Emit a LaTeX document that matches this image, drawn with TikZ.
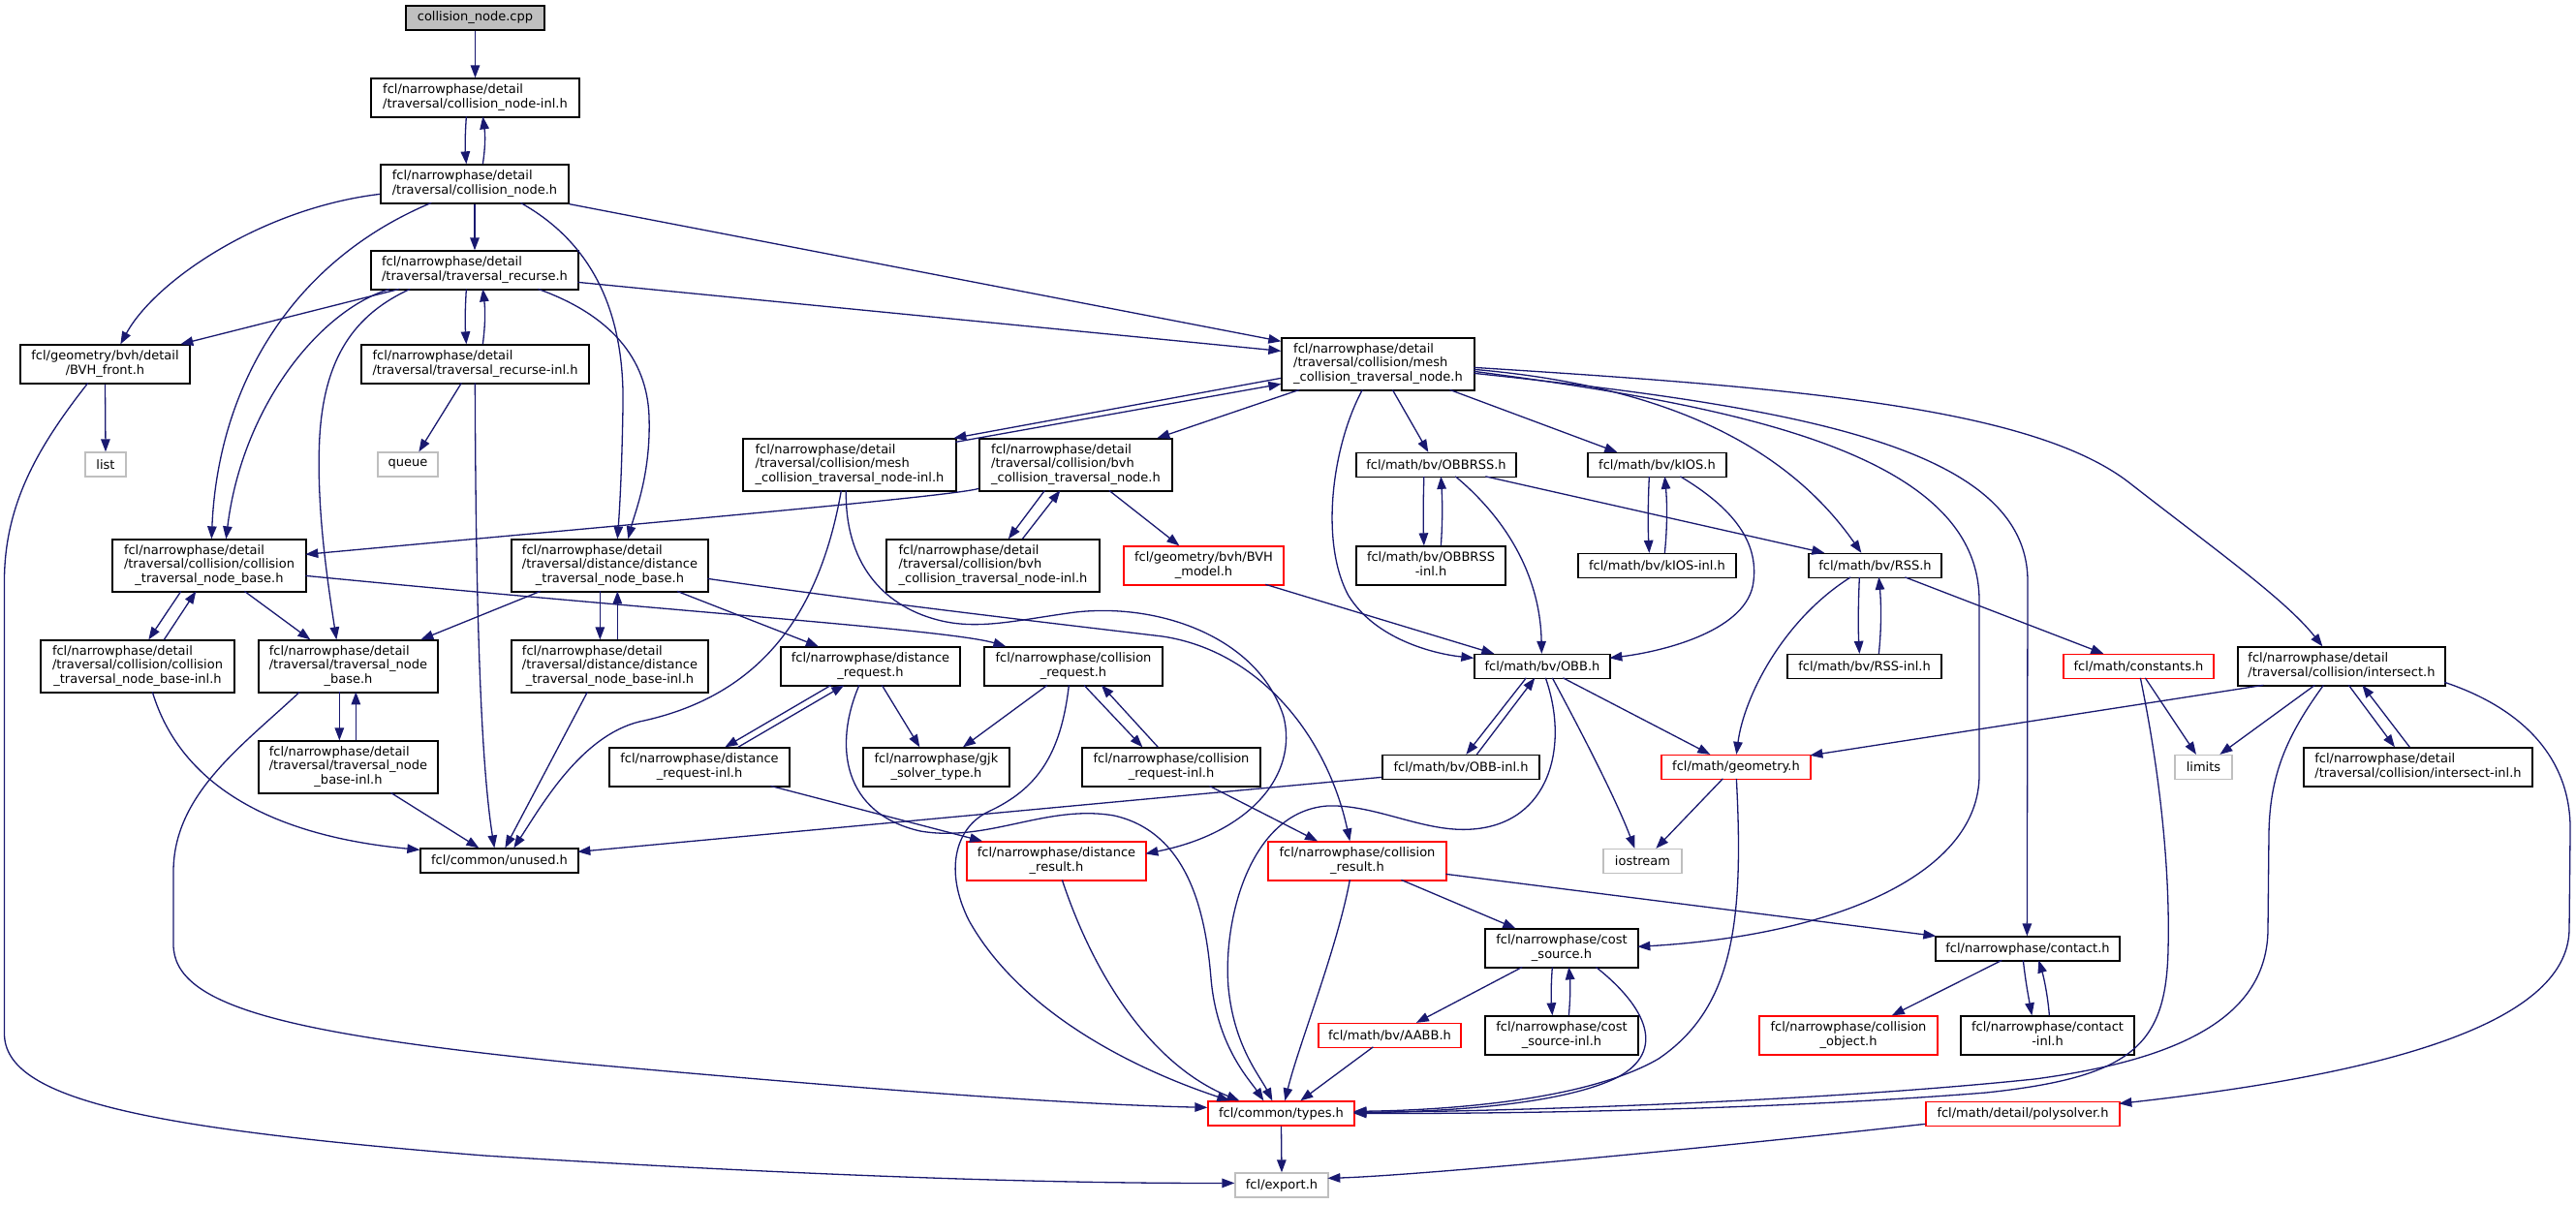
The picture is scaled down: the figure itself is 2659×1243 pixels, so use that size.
\documentclass[tikz,border=0pt]{standalone}
\usepackage{fontspec}
\setmainfont{DejaVu Sans}
\usetikzlibrary{arrows.meta}
\definecolor{eb}{HTML}{191970}
\definecolor{gb}{HTML}{BFBFBF}
\definecolor{rb}{HTML}{FF0000}
\newcommand{\LL}[2]{\begin{tabular}{@{}l@{}}#1\\\multicolumn{1}{@{}c@{}}{#2}\end{tabular}}
\begin{document}
\begin{tikzpicture}[x=1pt,y=-1pt,
  nd/.style={draw=black, fill=white, line width=1.3pt, rectangle, inner sep=0pt, font=\fontsize{13}{14.5}\selectfont},
  rd/.style={nd, draw=rb},
  gd/.style={nd, draw=gb},
  e/.style={draw=eb, line width=1.3pt, -{Triangle[length=13pt,width=9.5pt]}},
  n1/.style={minimum height=25pt},
  n2/.style={minimum height=40pt},
  n3/.style={minimum height=54pt}]
\fill[white] (0,0) rectangle (2659,1243);
\useasboundingbox (0,0) rectangle (2659,1243);

\node[nd,fill=gb,n1,minimum width=143pt] (cpp) at (490.5,18.5) {collision\_node.cpp};
\node[nd,n2,minimum width=215pt] (inl) at (490.5,101) {\LL{fcl/narrowphase/detail}{/traversal/collision\_node-inl.h}};
\node[nd,n2,minimum width=194pt] (cnode) at (490,190) {\LL{fcl/narrowphase/detail}{/traversal/collision\_node.h}};
\node[nd,n2,minimum width=214pt] (recurse) at (490,279) {\LL{fcl/narrowphase/detail}{/traversal/traversal\_recurse.h}};
\node[nd,n2,minimum width=175pt] (bvhfront) at (108.5,376) {\LL{fcl/geometry/bvh/detail}{/BVH\_front.h}};
\node[nd,n2,minimum width=235pt] (recinl) at (490.5,376) {\LL{fcl/narrowphase/detail}{/traversal/traversal\_recurse-inl.h}};
\node[gd,n1,minimum width=42pt] (list) at (109,479.5) {list};
\node[gd,n1,minimum width=62pt] (queue) at (421,479.5) {queue};
\node[nd,n3,minimum width=200pt] (ctnb) at (216,584) {\LL{fcl/narrowphase/detail\\/traversal/collision/collision}{\_traversal\_node\_base.h}};
\node[nd,n3,minimum width=203pt] (dtnb) at (629.5,584) {\LL{fcl/narrowphase/detail\\/traversal/distance/distance}{\_traversal\_node\_base.h}};
\node[nd,n3,minimum width=200pt] (ctnbinl) at (142,688) {\LL{fcl/narrowphase/detail\\/traversal/collision/collision}{\_traversal\_node\_base-inl.h}};
\node[nd,n3,minimum width=185pt] (tnb) at (359.5,688) {\LL{fcl/narrowphase/detail\\/traversal/traversal\_node}{\_base.h}};
\node[nd,n3,minimum width=203pt] (dtnbinl) at (629.5,688) {\LL{fcl/narrowphase/detail\\/traversal/distance/distance}{\_traversal\_node\_base-inl.h}};
\node[nd,n3,minimum width=185pt] (tnbinl) at (359.5,792) {\LL{fcl/narrowphase/detail\\/traversal/traversal\_node}{\_base-inl.h}};
\node[nd,n2,minimum width=186pt] (dreqinl) at (722,792) {\LL{fcl/narrowphase/distance}{\_request-inl.h}};
\node[nd,n1,minimum width=163pt] (unused) at (515.5,888.5) {fcl/common/unused.h};
\node[nd,n3,minimum width=199pt] (mesh) at (1422.5,376) {\LL{fcl/narrowphase/detail\\/traversal/collision/mesh}{\_collision\_traversal\_node.h}};
\node[nd,n3,minimum width=220pt] (meshinl) at (877,480) {\LL{fcl/narrowphase/detail\\/traversal/collision/mesh}{\_collision\_traversal\_node-inl.h}};
\node[nd,n3,minimum width=199pt] (bvhctn) at (1110.5,480) {\LL{fcl/narrowphase/detail\\/traversal/collision/bvh}{\_collision\_traversal\_node.h}};
\node[nd,n3,minimum width=220pt] (bvhctninl) at (1025,584) {\LL{fcl/narrowphase/detail\\/traversal/collision/bvh}{\_collision\_traversal\_node-inl.h}};
\node[rd,n2,minimum width=165pt] (bvhmodel) at (1242.5,584) {\LL{fcl/geometry/bvh/BVH}{\_model.h}};
\node[nd,n2,minimum width=185pt] (dreq) at (898.5,688) {\LL{fcl/narrowphase/distance}{\_request.h}};
\node[nd,n2,minimum width=184pt] (creq) at (1108,688) {\LL{fcl/narrowphase/collision}{\_request.h}};
\node[nd,n2,minimum width=151pt] (gjk) at (966.5,792) {\LL{fcl/narrowphase/gjk}{\_solver\_type.h}};
\node[nd,n2,minimum width=184pt] (creqinl) at (1209,792) {\LL{fcl/narrowphase/collision}{\_request-inl.h}};
\node[rd,n2,minimum width=185pt] (dres) at (1090.5,889) {\LL{fcl/narrowphase/distance}{\_result.h}};
\node[rd,n2,minimum width=184pt] (cres) at (1401,889) {\LL{fcl/narrowphase/collision}{\_result.h}};
\node[rd,n1,minimum width=151pt] (types) at (1322.5,1149.5) {fcl/common/types.h};
\node[gd,n1,minimum width=96pt] (export) at (1323,1223.5) {fcl/export.h};
\node[nd,n1,minimum width=165pt] (OBBRSS) at (1482.5,480) {fcl/math/bv/OBBRSS.h};
\node[nd,n1,minimum width=143pt] (kIOS) at (1710.5,480) {fcl/math/bv/kIOS.h};
\node[nd,n2,minimum width=154pt] (OBBRSSinl) at (1477,584) {\LL{fcl/math/bv/OBBRSS}{-inl.h}};
\node[nd,n1,minimum width=163pt] (kIOSinl) at (1710.5,584) {fcl/math/bv/kIOS-inl.h};
\node[nd,n1,minimum width=137pt] (RSS) at (1935.5,584) {fcl/math/bv/RSS.h};
\node[nd,n1,minimum width=140pt] (OBB) at (1592,688) {fcl/math/bv/OBB.h};
\node[nd,n1,minimum width=159pt] (RSSinl) at (1924.5,688) {fcl/math/bv/RSS-inl.h};
\node[rd,n1,minimum width=155pt] (constants) at (2207.5,688) {fcl/math/constants.h};
\node[nd,n2,minimum width=214pt] (intersect) at (2417,688) {\LL{fcl/narrowphase/detail}{/traversal/collision/intersect.h}};
\node[nd,n1,minimum width=162pt] (OBBinl) at (1508,792) {fcl/math/bv/OBB-inl.h};
\node[rd,n1,minimum width=154pt] (geometry) at (1792,792) {fcl/math/geometry.h};
\node[gd,n1,minimum width=59pt] (limits) at (2274.5,792) {limits};
\node[nd,n2,minimum width=236pt] (intinl) at (2496,792) {\LL{fcl/narrowphase/detail}{/traversal/collision/intersect-inl.h}};
\node[gd,n1,minimum width=81pt] (iostream) at (1695.5,889) {iostream};
\node[nd,n2,minimum width=158pt] (costsrc) at (1612,979) {\LL{fcl/narrowphase/cost}{\_source.h}};
\node[nd,n1,minimum width=190pt] (contact) at (2093,979.5) {fcl/narrowphase/contact.h};
\node[nd,n2,minimum width=158pt] (costinl) at (1612,1069) {\LL{fcl/narrowphase/cost}{\_source-inl.h}};
\node[rd,n2,minimum width=184pt] (collobj) at (1908,1069) {\LL{fcl/narrowphase/collision}{\_object.h}};
\node[nd,n2,minimum width=179pt] (contactinl) at (2113.5,1069) {\LL{fcl/narrowphase/contact}{-inl.h}};
\node[rd,n1,minimum width=147pt] (AABB) at (1434.5,1069) {fcl/math/bv/AABB.h};
\node[rd,n1,minimum width=200pt] (polysolver) at (2088,1150) {fcl/math/detail/polysolver.h};

% top part
\draw[e] (cpp.south) -- (inl.north);
\draw[e] ([shift={(99,40)}]inl.north west) .. controls (480,140) and (480,152) .. ([shift={(89,0)}]cnode.north west);
\draw[e] ([shift={(106,0)}]cnode.north west) .. controls (501,152) and (501,140) .. ([shift={(116,40)}]inl.north west);
\draw[e] (cnode.south) -- (recurse.north);
\draw[e] ([shift={(0,31)}]cnode.north west) .. controls (270,215) and (160,290) .. ([shift={(104,0)}]bvhfront.north west);
\draw[e] ([shift={(53,40)}]cnode.north west) .. controls (300,270) and (225,400) .. ([shift={(103,0)}]ctnb.north west);
\draw[e] ([shift={(20,40)}]recurse.north west) .. controls (330,320) and (250,420) .. ([shift={(118,0)}]ctnb.north west);
\draw[e] ([shift={(41,40)}]recurse.north west) .. controls (365,325) and (335,370) .. (330,450) .. controls (326,520) and (338,600) .. ([shift={(81,0)}]tnb.north west);
\draw[e] ([shift={(30,40)}]recurse.north west) -- ([shift={(166,0)}]bvhfront.north west);
\draw[e] ([shift={(99,40)}]recurse.north west) .. controls (480,320) and (480,335) .. ([shift={(109,0)}]recinl.north west);
\draw[e] ([shift={(126,0)}]recinl.north west) .. controls (501,335) and (501,320) .. ([shift={(116,40)}]recurse.north west);
\draw[e] ([shift={(104,40)}]recinl.north west) -- ([shift={(43,0)}]queue.north west);
\draw[e] ([shift={(118,40)}]recinl.north west) .. controls (491,600) and (495,780) .. ([shift={(77,0)}]unused.north west);
\draw[e] (bvhfront.south) -- (list.north);
\draw[e] ([shift={(70.5,40)}]bvhfront.north west) .. controls (40,460) and (4.5,520) .. (4.5,600) -- (4.5,1067) .. controls (4.5,1135) and (150,1165) .. (500,1193) .. controls (850,1215) and (1100,1222) .. ([shift={(0,11)}]export.north west);
\draw[e] ([shift={(145,40)}]cnode.north west) .. controls (610,250) and (645,320) .. (643,420) .. controls (642,480) and (640,520) .. ([shift={(110,0)}]dtnb.north west);
\draw[e] ([shift={(173,40)}]recurse.north west) .. controls (630,325) and (668,370) .. (670,430) .. controls (672,490) and (655,530) .. ([shift={(121,0)}]dtnb.north west);
\draw[e] (cnode.south east) -- ([shift={(0,4)}]mesh.north west);
\draw[e] ([shift={(214,33)}]recurse.north west) -- ([shift={(0,14)}]mesh.north west);

% collision / traversal base
\draw[e] ([shift={(71.5,54)}]ctnb.north west) -- ([shift={(112,0)}]ctnbinl.north west);
\draw[e] ([shift={(128,0)}]ctnbinl.north west) -- ([shift={(87,54)}]ctnb.north west);
\draw[e] ([shift={(137,54)}]ctnb.north west) -- ([shift={(54,0)}]tnb.north west);
\draw[e] ([shift={(200,38)}]ctnb.north west) .. controls (700,632) and (980,650) .. ([shift={(23,0)}]creq.north west);
\draw[e] ([shift={(0,52)}]bvhctn.north west) .. controls (985,512) and (700,537) .. ([shift={(200,16)}]ctnb.north west);
\draw[e] ([shift={(116,54)}]ctnbinl.north west) .. controls (180,790) and (250,860) .. ([shift={(0,2)}]unused.north west);
\draw[e] ([shift={(84,54)}]tnb.north west) -- ([shift={(84,0)}]tnbinl.north west);
\draw[e] ([shift={(101,0)}]tnbinl.north west) -- ([shift={(101,54)}]tnb.north west);
\draw[e] ([shift={(43,54)}]tnb.north west) .. controls (250,770) and (179,820) .. (179,900) -- (179,975) .. controls (179,1040) and (300,1068) .. (600,1098) .. controls (900,1125) and (1100,1140) .. ([shift={(0,7)}]types.north west);
\draw[e] ([shift={(137,54)}]tnbinl.north west) -- ([shift={(61,0)}]unused.north west);
\draw[e] ([shift={(30.5,54)}]dtnb.north west) -- ([shift={(168,0)}]tnb.north west);
\draw[e] ([shift={(92,54)}]dtnb.north west) -- ([shift={(92,0)}]dtnbinl.north west);
\draw[e] ([shift={(110,0)}]dtnbinl.north west) -- ([shift={(110,54)}]dtnb.north west);
\draw[e] ([shift={(171.5,54)}]dtnb.north west) -- ([shift={(39.5,0)}]dreq.north west);
\draw[e] ([shift={(203,41)}]dtnb.north west) .. controls (900,622) and (1100,645) .. (1200,657) .. controls (1300,672) and (1370,760) .. ([shift={(85,0)}]cres.north west);
\draw[e] ([shift={(79,54)}]dtnbinl.north west) -- ([shift={(88,0)}]unused.north west);

% mesh inl
\draw[e] ([shift={(102,54)}]meshinl.north west) .. controls (845,640) and (780,720) .. (660,745) .. controls (600,760) and (560,830) .. ([shift={(97,0)}]unused.north west);
\draw[e] ([shift={(107,54)}]meshinl.north west) .. controls (872,580) and (910,625) .. (968,640) .. controls (1010,651) and (1050,640) .. (1110,632) .. controls (1200,622) and (1300,660) .. (1325,740) .. controls (1340,800) and (1290,860) .. ([shift={(185,13)}]dres.north west);
\draw[e] ([shift={(0,42)}]mesh.north west) -- ([shift={(218,0)}]meshinl.north west);
\draw[e] ([shift={(220,4)}]meshinl.north west) -- ([shift={(0,48)}]mesh.north west);
\draw[e] ([shift={(19,54)}]mesh.north west) -- ([shift={(184,0)}]bvhctn.north west);

% bvh
\draw[e] ([shift={(68,54)}]bvhctn.north west) -- ([shift={(126.5,0)}]bvhctninl.north west);
\draw[e] ([shift={(141,0)}]bvhctninl.north west) -- ([shift={(84,54)}]bvhctn.north west);
\draw[e] ([shift={(134.5,54)}]bvhctn.north west) -- ([shift={(58,0)}]bvhmodel.north west);
\draw[e] ([shift={(147,40)}]bvhmodel.north west) -- ([shift={(21,0)}]OBB.north west);

% mesh fan
\draw[e] ([shift={(115,54)}]mesh.north west) -- ([shift={(75,0)}]OBBRSS.north west);
\draw[e] ([shift={(174,54)}]mesh.north west) -- ([shift={(31,0)}]kIOS.north west);
\draw[e] ([shift={(84,54)}]mesh.north west) .. controls (1375,460) and (1362,560) .. (1392,615) .. controls (1420,660) and (1480,675) .. ([shift={(0,4.5)}]OBB.north west);
\draw[e] ([shift={(199,33)}]mesh.north west) .. controls (1680,395) and (1830,440) .. ([shift={(55,0)}]RSS.north west);
\draw[e] ([shift={(199,35)}]mesh.north west) .. controls (1800,420) and (2043,470) .. (2043,620) -- (2043,800) .. controls (2043,900) and (1900,965) .. ([shift={(158,19)}]costsrc.north west);
\draw[e] ([shift={(199,37)}]mesh.north west) .. controls (1850,420) and (2093,460) .. (2093,600) -- ([shift={(95,0)}]contact.north west);
\draw[e] ([shift={(199,31)}]mesh.north west) .. controls (1850,400) and (2100,420) .. (2200,500) .. controls (2290,570) and (2360,620) .. ([shift={(88,0)}]intersect.north west);

% bounding volumes
\draw[e] ([shift={(70.5,25)}]OBBRSS.north west) .. controls (1469,520) and (1469,540) .. ([shift={(70.5,0)}]OBBRSSinl.north west);
\draw[e] ([shift={(88,0)}]OBBRSSinl.north west) .. controls (1489,540) and (1489,520) .. ([shift={(88,25)}]OBBRSS.north west);
\draw[e] ([shift={(103,25)}]OBBRSS.north west) .. controls (1560,540) and (1590,600) .. ([shift={(70,0)}]OBB.north west);
\draw[e] ([shift={(134,25)}]OBBRSS.north west) -- ([shift={(17,0)}]RSS.north west);
\draw[e] ([shift={(64,25)}]kIOS.north west) .. controls (1701,520) and (1701,545) .. ([shift={(74,0)}]kIOSinl.north west);
\draw[e] ([shift={(90,0)}]kIOSinl.north west) .. controls (1721,545) and (1721,520) .. ([shift={(80,25)}]kIOS.north west);
\draw[e] ([shift={(96,25)}]kIOS.north west) .. controls (1790,525) and (1815,560) .. (1810,600) .. controls (1805,650) and (1720,672) .. ([shift={(140,4.5)}]OBB.north west);
\draw[e] ([shift={(53,25)}]RSS.north west) .. controls (1918,625) and (1918,650) .. ([shift={(75,0)}]RSSinl.north west);
\draw[e] ([shift={(95,0)}]RSSinl.north west) .. controls (1942,650) and (1942,625) .. ([shift={(73,25)}]RSS.north west);
\draw[e] ([shift={(44,25)}]RSS.north west) .. controls (1840,640) and (1800,720) .. ([shift={(78,0)}]geometry.north west);
\draw[e] ([shift={(100,25)}]RSS.north west) -- ([shift={(42,0)}]constants.north west);
\draw[e] ([shift={(54,25)}]OBB.north west) -- ([shift={(87,0)}]OBBinl.north west);
\draw[e] ([shift={(98,0)}]OBBinl.north west) -- ([shift={(63,25)}]OBB.north west);
\draw[e] ([shift={(74,25)}]OBB.north west) .. controls (1620,770) and (1600,850) .. (1520,856) .. controls (1470,860) and (1420,830) .. (1370,832) .. controls (1290,838) and (1262,950) .. (1268,1020) .. controls (1274,1080) and (1300,1110) .. ([shift={(67,0)}]types.north west);
\draw[e] ([shift={(81,25)}]OBB.north west) .. controls (1640,770) and (1670,830) .. ([shift={(33,0)}]iostream.north west);
\draw[e] ([shift={(92,25)}]OBB.north west) -- ([shift={(51,0)}]geometry.north west);
\draw[e] ([shift={(64,25)}]geometry.north west) -- ([shift={(55,0)}]iostream.north west);
\draw[e] ([shift={(78,25)}]geometry.north west) .. controls (1800,950) and (1790,1040) .. (1712,1093) .. controls (1640,1135) and (1500,1146) .. ([shift={(151,11)}]types.north west);
\draw[e] ([shift={(27,40)}]intersect.north west) -- ([shift={(154,1)}]geometry.north west);
\draw[e] ([shift={(0,23.5)}]OBBinl.north west) -- ([shift={(163,4)}]unused.north west);

% results, cost, contact
\draw[e] ([shift={(138,40)}]cres.north west) -- ([shift={(32,0)}]costsrc.north west);
\draw[e] ([shift={(184,34)}]cres.north west) -- ([shift={(1,0)}]contact.north west);
\draw[e] ([shift={(85,40)}]cres.north west) .. controls (1380,980) and (1340,1080) .. ([shift={(80,0)}]types.north west);
\draw[e] ([shift={(39,40)}]costsrc.north west) -- ([shift={(101.5,0)}]AABB.north west);
\draw[e] ([shift={(70,40)}]costsrc.north west) .. controls (1601,1015) and (1601,1030) .. ([shift={(70,0)}]costinl.north west);
\draw[e] ([shift={(87,0)}]costinl.north west) .. controls (1621,1030) and (1621,1015) .. ([shift={(87,40)}]costsrc.north west);
\draw[e] ([shift={(115,40)}]costsrc.north west) .. controls (1700,1040) and (1720,1085) .. (1670,1112) .. controls (1610,1142) and (1480,1148) .. ([shift={(151,12)}]types.north west);
\draw[e] ([shift={(69,25)}]contact.north west) -- ([shift={(137.5,0)}]collobj.north west);
\draw[e] ([shift={(91,25)}]contact.north west) .. controls (2091,1015) and (2094,1030) .. ([shift={(74,0)}]contactinl.north west);
\draw[e] ([shift={(92,0)}]contactinl.north west) .. controls (2114,1030) and (2110,1010) .. ([shift={(107,25)}]contact.north west);
\draw[e] ([shift={(80,25)}]constants.north west) .. controls (2230,800) and (2240,900) .. (2238,980) .. controls (2236,1080) and (2200,1112) .. (2050,1128) .. controls (1800,1148) and (1500,1150) .. ([shift={(151,13)}]types.north west);
\draw[e] ([shift={(85,25)}]constants.north west) -- ([shift={(22.6,0)}]limits.north west);
\draw[e] ([shift={(89,40)}]intersect.north west) .. controls (2360,760) and (2343,800) .. (2342,860) -- (2341,960) .. controls (2340,1050) and (2250,1094) .. (2100,1114) .. controls (1850,1140) and (1500,1148) .. ([shift={(151,12)}]types.north west);
\draw[e] ([shift={(80,40)}]intersect.north west) -- ([shift={(47,0)}]limits.north west);
\draw[e] ([shift={(115,40)}]intersect.north west) -- ([shift={(94.6,0)}]intinl.north west);
\draw[e] ([shift={(110,0)}]intinl.north west) -- ([shift={(129,40)}]intersect.north west);
\draw[e] ([shift={(214,37)}]intersect.north west) .. controls (2600,730) and (2655,780) .. (2653,860) -- (2652,960) .. controls (2650,1060) and (2450,1110) .. ([shift={(200,2.5)}]polysolver.north west);
\draw[e] ([shift={(0,23.5)}]polysolver.north west) .. controls (1700,1192) and (1450,1214) .. ([shift={(96,6)}]export.north west);
\draw[e] (types.south) -- (export.north);
\draw[e] ([shift={(57,25)}]AABB.north west) -- ([shift={(96,0)}]types.north west);
\draw[e] ([shift={(99,40)}]dres.north west) .. controls (1130,1010) and (1190,1100) .. ([shift={(33,0)}]types.north west);
\draw[e] ([shift={(81.5,40)}]dreq.north west) .. controls (860,770) and (870,840) .. (950,858) .. controls (1020,870) and (1080,830) .. (1150,842) .. controls (1230,860) and (1245,950) .. (1250,1010) .. controls (1256,1080) and (1290,1115) .. ([shift={(58,0)}]types.north west);
\draw[e] ([shift={(88,40)}]creq.north west) .. controls (1095,780) and (1070,815) .. (1020,838) .. controls (985,855) and (975,900) .. (1000,950) .. controls (1050,1040) and (1160,1100) .. ([shift={(23,0)}]types.north west);
\draw[e] ([shift={(103.6,40)}]creq.north west) -- ([shift={(63,0)}]creqinl.north west);
\draw[e] ([shift={(79,0)}]creqinl.north west) -- ([shift={(121.5,40)}]creq.north west);
\draw[e] ([shift={(65.7,40)}]creq.north west) -- ([shift={(103.6,0)}]gjk.north west);
\draw[e] ([shift={(105,40)}]dreq.north west) -- ([shift={(59,0)}]gjk.north west);
\draw[e] ([shift={(52.5,40)}]dreq.north west) -- ([shift={(120,0)}]dreqinl.north west);
\draw[e] ([shift={(133.5,0)}]dreqinl.north west) -- ([shift={(66,40)}]dreq.north west);
\draw[e] ([shift={(167,40)}]dreqinl.north west) -- ([shift={(16.7,0)}]dres.north west);
\draw[e] ([shift={(132,40)}]creqinl.north west) -- ([shift={(51.7,0)}]cres.north west);
\end{tikzpicture}
\end{document}
